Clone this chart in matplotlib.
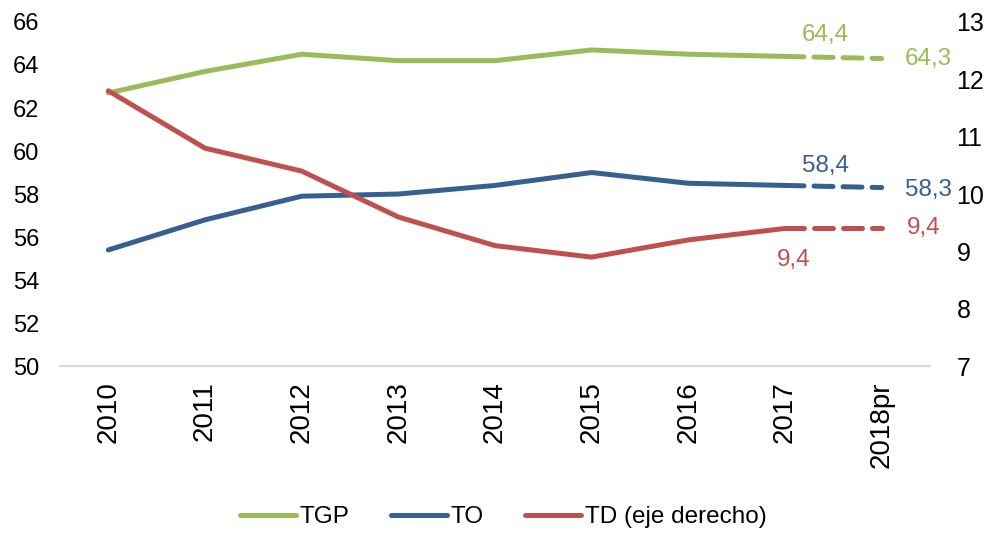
import numpy as np
import matplotlib
matplotlib.use("Agg")
import matplotlib.pyplot as plt
from matplotlib.lines import Line2D

plt.rcParams['font.family'] = ['Liberation Sans', 'DejaVu Sans']

# datos (Colombia, tasas anuales)
years = ['2010', '2011', '2012', '2013', '2014', '2015', '2016', '2017', '2018pr']
tgp = [62.7, 63.7, 64.5, 64.2, 64.2, 64.7, 64.5, 64.4, 64.3]
to = [55.4, 56.8, 57.9, 58.0, 58.4, 59.0, 58.5, 58.4, 58.3]
td = [11.8, 10.8, 10.4, 9.6, 9.1, 8.9, 9.2, 9.4, 9.4]

c_tgp = '#9BBB59'
c_to = '#376092'
c_td = '#C0504D'

fig = plt.figure(figsize=(9.93, 5.36), dpi=100)
ax = fig.add_axes([0.0604, 0.317, 0.8762, 0.642])
ax2 = ax.twinx()

x = np.arange(len(years))
lw = 3.6
dash = (0, (3.8, 2.0))

def draw(a, vals, col):
        a.plot(x[:-1], vals[:-1], color=col, lw=lw, solid_capstyle='round', solid_joinstyle='round')
        a.plot(x[-2:], vals[-2:], color=col, lw=lw, linestyle=dash, dash_capstyle='round')

draw(ax, tgp, c_tgp)
draw(ax, to, c_to)
draw(ax2, td, c_td)

ax.set_xlim(-0.5, len(years) - 0.5)
ax.set_ylim(50, 66)
ax.set_yticks(np.arange(50, 67, 2))
ax2.set_ylim(7, 13)
ax2.set_yticks(np.arange(7, 14, 1))

ax.set_xticks(x)
ax.set_xticklabels(years, rotation=90)

for a in (ax, ax2):
        for s in ('top', 'left', 'right'):
                a.spines[s].set_visible(False)
        a.spines['bottom'].set_color('#D9D9D9')
        a.spines['bottom'].set_linewidth(1.5)
        a.tick_params(length=0, labelsize=17, colors='black')
ax.tick_params(axis='y', pad=15)
ax.tick_params(axis='x', pad=11, labelsize=20)
ax2.tick_params(axis='y', pad=19, labelsize=18)

# etiquetas de datos
fs = 17.5
def lab(a, xi, val, txt, col, dx, dy):
        a.annotate(txt, (xi, val), xytext=(dx, dy), textcoords='offset pixels',
                   ha='center', va='center', color=col, fontsize=fs)

lab(ax, 7, tgp[7], '64,4', c_tgp, 40, 21)
lab(ax, 8, tgp[8], '64,3', c_tgp, 47, 0)
lab(ax, 7, to[7], '58,4', c_to, 40, 19)
lab(ax, 8, to[8], '58,3', c_to, 47, -2)
lab(ax2, 8, td[8], '9,4', c_td, 42, 0)
lab(ax2, 7, td[7], '9,4', c_td, 9, -32)

handles = [Line2D([], [], color=c_tgp, lw=lw, solid_capstyle='round'),
           Line2D([], [], color=c_to, lw=lw, solid_capstyle='round'),
           Line2D([], [], color=c_td, lw=lw, solid_capstyle='round')]
fig.legend(handles, ['TGP', 'TO', 'TD (eje derecho)'], loc='center',
           bbox_to_anchor=(0.507, 0.035), ncol=3, frameon=False, fontsize=17.5,
           handlelength=2.3, handletextpad=0.15, columnspacing=1.7)

fig.savefig('out.png', dpi=100)
